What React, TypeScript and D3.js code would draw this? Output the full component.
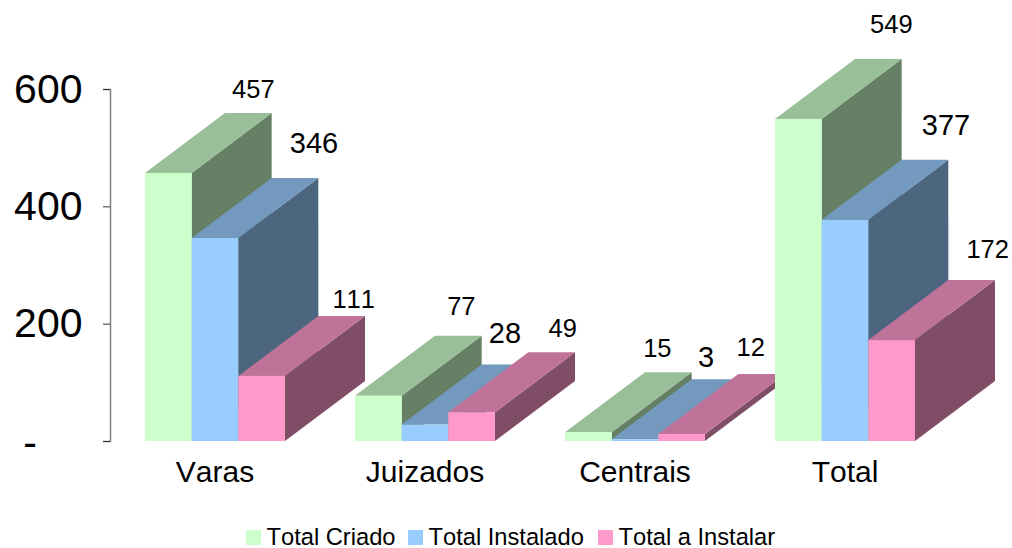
import * as d3 from "d3";
import { useEffect, useRef } from "react";

const categories = ["Varas", "Juizados", "Centrais", "Total"];
const seriesNames = ["Total Criado", "Total Instalado", "Total a Instalar"];
const totalCriado = [457, 77, 15, 549];
const totalInstalado = [346, 28, 3, 377];
const totalAInstalar = [111, 49, 12, 172];
const seriesValues = [totalCriado, totalInstalado, totalAInstalar];
const seriesColors = ["#CCFFCC", "#99CCFF", "#FF99CC"];
const yTicks = [0, 200, 400, 600];

// the data labels were placed by hand in the original, so they need nudging
const labelNudges = [
  [[5, -15], [19, -25], [12, -8]],
  [[3, -21], [0, -22], [11, -15]],
  [[-11, -15], [-9, -12], [-11, -18]],
  [[13, -26], [21, -25], [16, -22]],
];
const labelSizes = [25.5, 29, 25.5];
const legendX = [246, 408, 598];

const width = 1012;
const height = 548;
const depth = { x: 80, y: -60 };

const shade = (color: string, k: number) => {
  const c = d3.rgb(color);
  return d3.rgb(c.r * k, c.g * k, c.b * k).formatHex();
};

export default function App() {
  const svgRef = useRef<SVGSVGElement>(null);

  useEffect(() => {
    const svg = d3.select(svgRef.current);
    svg.selectAll("*").remove();
    svg
      .style("font-family", "'Liberation Sans', Arial, sans-serif")
      .style("font-kerning", "none");

    const x = d3
      .scaleBand()
      .domain(categories)
      .range([110, 950])
      .paddingInner(1 / 3)
      .paddingOuter(1 / 6);
    const x1 = d3
      .scaleBand()
      .domain(seriesNames)
      .range([0, x.bandwidth()]);
    const y = d3.scaleLinear().domain([0, 600]).range([441, 89]);

    // Y axis
    const yAxis = svg
      .append("g")
      .attr("transform", "translate(110,0)")
      .call(
        d3
          .axisLeft(y)
          .tickValues(yTicks)
          .tickSize(7)
          .tickPadding(20.5)
          .tickFormat((d) => (d === 0 ? "-" : d3.format("d")(d as number)))
      );
    yAxis.select(".domain").attr("stroke", "#808080").attr("stroke-width", 1.5);
    yAxis.selectAll(".tick line").attr("stroke", "#333333");
    yAxis
      .selectAll(".tick text")
      .style("font-size", "41px")
      .style("font-family", "'Liberation Sans', Arial, sans-serif")
      .style("font-kerning", "none")
      .attr("fill", "#000000");
    yAxis
      .selectAll(".tick text")
      .filter((d) => d === 0)
      .attr("x", -73)
      .attr("dy", "0.36em");

    // Bars, drawn back to front so each series overlaps the previous one
    categories.forEach((cat, i) => {
      const g = svg.append("g").attr("class", "category");
      seriesNames.forEach((name, s) => {
        const value = seriesValues[s][i];
        const x0 = x(cat)! + x1(name)!;
        const x2 = x0 + x1.bandwidth();
        const yTop = y(value);
        const yBase = y(0);
        const color = seriesColors[s];
        const line = d3.line();

        g.append("path")
          .attr(
            "d",
            line([
              [x2, yTop],
              [x2 + depth.x, yTop + depth.y],
              [x2 + depth.x, yBase + depth.y],
              [x2, yBase],
            ])! + "Z"
          )
          .attr("fill", shade(color, 0.5));
        g.append("path")
          .attr(
            "d",
            line([
              [x0, yTop],
              [x0 + depth.x, yTop + depth.y],
              [x2 + depth.x, yTop + depth.y],
              [x2, yTop],
            ])! + "Z"
          )
          .attr("fill", shade(color, 0.75));
        g.append("rect")
          .attr("x", x0)
          .attr("y", yTop)
          .attr("width", x1.bandwidth())
          .attr("height", yBase - yTop)
          .attr("fill", color);
      });
    });

    // Data labels go on top of every bar
    categories.forEach((cat, i) => {
      seriesNames.forEach((name, s) => {
        const value = seriesValues[s][i];
        const [nx, ny] = labelNudges[i][s];
        svg
          .append("text")
          .attr("x", x(cat)! + x1(name)! + x1.bandwidth() / 2 + depth.x + nx)
          .attr("y", y(value) + depth.y + ny)
          .attr("text-anchor", "middle")
          .style("font-size", `${labelSizes[s]}px`)
          .attr("fill", "#000000")
          .text(value);
      });
    });

    // Category labels
    const xAxis = svg
      .append("g")
      .attr("transform", `translate(0,${y(0)})`)
      .call(d3.axisBottom(x).tickSize(0).tickPadding(19.5));
    xAxis.select(".domain").remove();
    xAxis
      .selectAll(".tick text")
      .style("font-size", "30px")
      .style("font-family", "'Liberation Sans', Arial, sans-serif")
      .style("font-kerning", "none")
      .attr("fill", "#000000");

    // Legend
    const legend = svg
      .selectAll(".legend-item")
      .data(seriesNames)
      .join("g")
      .attr("class", "legend-item")
      .attr("transform", (_, i) => `translate(${legendX[i]},530)`);
    legend
      .append("rect")
      .attr("width", 15)
      .attr("height", 15)
      .attr("fill", (_, i) => seriesColors[i]);
    legend
      .append("text")
      .attr("x", 20.5)
      .attr("y", 15)
      .style("font-size", "23.7px")
      .attr("fill", "#000000")
      .text((d) => d);
  }, []);

  return (
    <svg
      ref={svgRef}
      width={width}
      height={height}
      viewBox={`0 0 ${width} ${height}`}
      style={{ position: "absolute", left: 0, top: 0, display: "block", background: "#ffffff" }}
    />
  );
}
